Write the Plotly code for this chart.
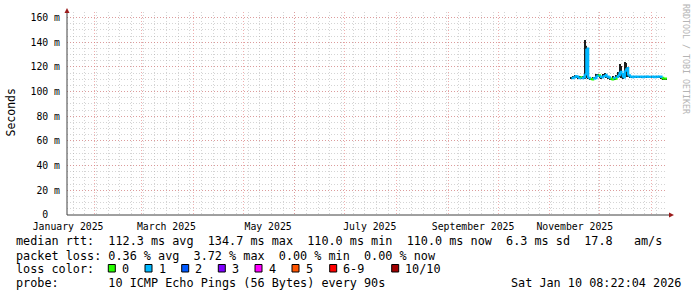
import plotly.graph_objects as go
import pandas as pd

# ---------------- data ----------------
dates = pd.date_range("2025-11-14", "2026-01-10", freq="D")
median_ms = [111.0, 111.5, 112.5, 112.0, 111.0, 111.5, 111.0, 111.5, 114.0, 134.7,
             111.0, 110.3, 110.0, 110.8, 111.0, 112.8, 113.0, 112.0, 111.5, 112.5,
             113.5, 112.0, 111.5, 110.5, 110.0, 111.0, 110.5, 112.0, 113.5, 116.0,
             114.0, 111.5, 117.0, 119.0, 113.0, 112.0, 111.8, 112.0, 112.1, 111.9,
             112.0, 112.0, 111.8, 112.0, 112.1, 112.0, 111.9, 112.0, 112.0, 111.8,
             112.0, 112.1, 112.0, 112.0, 111.0, 110.5, 110.5, 110.0]
loss_idx = [1, 1, 1, 1, 1, 0, 1, 1, 1, 1,
            1, 0, 0, 1, 1, 1, 0, 1, 1, 1,
            1, 1, 1, 0, 0, 1, 0, 1, 1, 1,
            1, 1, 1, 1, 1, 1, 1, 1, 1, 1,
            1, 1, 1, 1, 1, 1, 1, 1, 1, 1,
            1, 1, 1, 1, 0, 0, 0, 0]
smoke_hi = [112.0, 112.5, 113.5, 113.0, 112.0, 112.5, 112.0, 113.0, 142.0, 137.0,
            112.0, 111.0, 111.0, 112.0, 112.0, 114.5, 114.0, 113.0, 112.5, 114.0,
            115.0, 113.0, 113.0, 112.0, 111.0, 112.5, 112.0, 113.5, 116.0, 122.5,
            121.0, 115.0, 124.0, 123.0, 116.0, 112.6, 112.4, 112.6, 112.7, 112.5,
            112.6, 112.6, 112.4, 112.6, 112.7, 112.6, 112.5, 112.6, 112.6, 112.4,
            112.6, 112.7, 112.6, 112.6, 111.6, 111.1, 111.1, 110.6]
smoke_lo = [110.3, 110.8, 111.5, 111.0, 110.3, 110.5, 110.3, 110.5, 110.5, 111.0,
            110.0, 109.6, 109.5, 110.0, 110.2, 111.2, 111.5, 110.8, 110.5, 111.2,
            111.5, 110.8, 110.5, 109.8, 109.5, 110.2, 109.8, 110.8, 111.5, 111.5,
            111.0, 110.5, 111.5, 111.5, 111.5, 111.4, 111.2, 111.4, 111.5, 111.3,
            111.4, 111.4, 111.2, 111.4, 111.5, 111.4, 111.3, 111.4, 111.4, 111.2,
            111.4, 111.5, 111.4, 111.4, 110.4, 109.9, 109.9, 109.4]

loss_labels = ["0", "1", "2", "3", "4", "5", "6-9", "10/10"]
loss_colors = ["#26ff00", "#00b8ff", "#0059ff", "#7e00ff", "#ff00ff", "#ff5500", "#ff0000", "#a10000"]

x_start = "2025-01-15 08:22:04"
x_end = "2026-01-10 08:22:04"
x_label_pos = ["2025-01-16", "2025-03-16", "2025-05-16", "2025-07-16", "2025-09-16", "2025-11-16"]
x_label_text = ["January 2025", "March 2025", "May 2025", "July 2025", "September 2025", "November 2025"]
month_starts = ["2025-02-01", "2025-03-01", "2025-04-01", "2025-05-01", "2025-06-01", "2025-07-01",
                "2025-08-01", "2025-09-01", "2025-10-01", "2025-11-01", "2025-12-01", "2026-01-01"]
y_ticks = [0, 20, 40, 60, 80, 100, 120, 140, 160]
y_tick_text = ["0\u00a0\u00a0", "20 m", "40 m", "60 m", "80 m", "100 m", "120 m", "140 m", "160 m"]

row1 = "median rtt:  112.3 ms avg  134.7 ms max  110.0 ms min  110.0 ms now  6.3 ms sd  17.8   am/s"
row2 = "packet loss: 0.36 % avg  3.72 % max  0.00 % min  0.00 % now"
row3 = "loss color:"
row4 = "probe:       10 ICMP Echo Pings (56 Bytes) every 90s"
stamp = "Sat Jan 10 08:22:04 2026"

# ---------------- layout helpers ----------------
W, H = 697, 297
L, R, T, B = 67, 30, 12, 82
PW, PH = W - L - R, H - T - B
MONO = "DejaVu Sans Mono"


def px(x):
    return (x - L) / PW


def py(y):
    return (T + PH - y) / PH


def nb(s):
    return s.replace(" ", "\u00a0")


fig = go.Figure()

# smoke
fig.add_trace(go.Bar(
    x=dates, y=[h - l for h, l in zip(smoke_hi, smoke_lo)], base=smoke_lo,
    marker=dict(color="#1c1c1c", line=dict(width=0)), width=86400000 * 0.8,
    showlegend=False, hoverinfo="skip"))

# median coloured by loss
for lvl, col in enumerate(loss_colors):
    xs, ys = [], []
    for i in range(len(dates) - 1):
        if loss_idx[i] == lvl:
            xs += [dates[i], dates[i + 1], None]
            ys += [median_ms[i], median_ms[i + 1], None]
    if xs:
        fig.add_trace(go.Scatter(x=xs, y=ys, mode="lines", line=dict(color=col, width=2.4, shape="hv"),
                                 showlegend=False, hoverinfo="skip"))

# dummy trace for grid axis
fig.add_trace(go.Scatter(x=[x_start, x_end], y=[None, None], xaxis="x2", showlegend=False,
                         hoverinfo="skip"))

MAJ = "rgba(225,110,110,0.55)"
MIN = "rgba(160,160,160,0.45)"
DASH = "1px,2px"

fig.update_layout(
    width=W, height=H,
    margin=dict(l=L, r=R, t=T, b=B, pad=0),
    paper_bgcolor="white", plot_bgcolor="white",
    bargap=0,
    xaxis=dict(type="date", range=[x_start, x_end], tickvals=x_label_pos, ticktext=x_label_text,
               showgrid=False, zeroline=False, showline=False, ticks="",
               tickfont=dict(family=MONO, size=9.8, color="#000"), ticklabelstandoff=4),
    xaxis2=dict(type="date", range=[x_start, x_end], overlaying="x", side="bottom",
                tickvals=month_starts, showticklabels=False, showgrid=True,
                gridcolor=MAJ, griddash=DASH, gridwidth=1, zeroline=False, showline=False, ticks="",
                minor=dict(dtick=7 * 86400000, tick0="2025-01-19", showgrid=True,
                           gridcolor=MIN, griddash=DASH, gridwidth=1)),
    yaxis=dict(range=[0, 164.5], tickvals=y_ticks, ticktext=y_tick_text, showgrid=True,
               gridcolor=MAJ, griddash=DASH, gridwidth=1, zeroline=False, showline=False, ticks="",
               tickfont=dict(family=MONO, size=9.8, color="#000"), ticklabelstandoff=6,
               minor=dict(dtick=5, showgrid=True, gridcolor=MIN, griddash=DASH, gridwidth=1)),
    showlegend=False,
)

shapes = []
# axis lines
shapes.append(dict(type="line", xref="paper", yref="paper", x0=px(67), x1=px(669), y0=py(215), y1=py(215),
                   line=dict(color="#404040", width=1)))
shapes.append(dict(type="line", xref="paper", yref="paper", x0=px(67), x1=px(67), y0=py(215), y1=py(11),
                   line=dict(color="#404040", width=1)))
# arrows
shapes.append(dict(type="path", xref="paper", yref="paper",
                   path=f"M {px(64.5)} {py(13)} L {px(69.5)} {py(13)} L {px(67)} {py(8)} Z",
                   fillcolor="#9b1b1b", line=dict(width=0)))
shapes.append(dict(type="path", xref="paper", yref="paper",
                   path=f"M {px(669)} {py(212.5)} L {px(669)} {py(217.5)} L {px(674)} {py(215)} Z",
                   fillcolor="#9b1b1b", line=dict(width=0)))

annotations = []
FS = 11.8


def txt(s, x, y, anchor="left", size=FS, color="#000", angle=0):
    annotations.append(dict(text=nb(s), x=px(x), y=py(y), xref="paper", yref="paper",
                            xanchor=anchor, yanchor="middle", showarrow=False, textangle=angle,
                            font=dict(family=MONO, size=size, color=color), borderpad=0, borderwidth=0))


txt(row1, 16, 241)
txt(row2, 16, 255.5)
txt(row3, 16, 268.5)
txt(row4, 16, 283)
txt(stamp, 681, 283, anchor="right")

sq_left = [108.3, 145, 181.7, 218.3, 255, 292, 329.7, 391.7]
for lab, col, sx in zip(loss_labels, loss_colors, sq_left):
    shapes.append(dict(type="rect", xref="paper", yref="paper", x0=px(sx), x1=px(sx + 7),
                       y0=py(272), y1=py(264.5), fillcolor=col, line=dict(color="#000", width=1)))
    txt(lab, sx + 13.5, 268.5)

# y title and watermark
txt("Seconds", 10.5, 113, anchor="center", size=11.5, angle=-90)
annotations.append(dict(text=nb("RRDTOOL / TOBI OETIKER"), x=px(686), y=py(59), xref="paper", yref="paper",
                        xanchor="center", yanchor="middle", showarrow=False, textangle=90,
                        font=dict(family=MONO, size=8.3, color="#b4b4b4")))

fig.update_layout(shapes=shapes, annotations=annotations)
fig.write_html("out.html")
